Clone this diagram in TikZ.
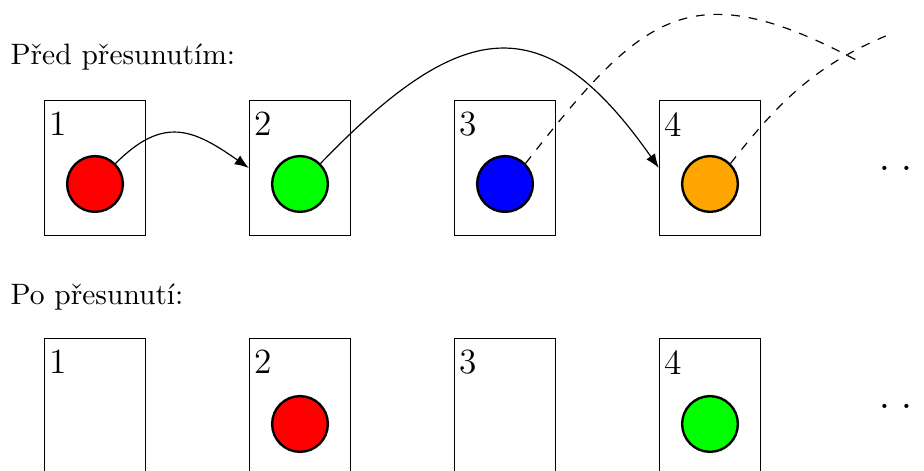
\documentclass[tikz,border=0pt]{standalone}
\usetikzlibrary{arrows.meta}
\definecolor{ballred}{RGB}{255,0,0}
\definecolor{ballgreen}{RGB}{0,255,0}
\definecolor{ballblue}{RGB}{0,0,255}
\definecolor{ballorange}{RGB}{255,165,0}
\begin{document}
\begin{tikzpicture}[x=0.339pt,y=0.339pt,
  slotbox/.style={draw, line width=0.4pt, minimum width=34.3pt, minimum height=45.8pt, inner sep=0pt},
  ball/.style={circle, draw, line width=0.8pt, minimum size=18.9pt, inner sep=0pt},
  numlabel/.style={anchor=north west, font=\large, inner xsep=1.6pt, inner ysep=4pt},
  heading/.style={anchor=base west, inner sep=0pt},
  moreslots/.style={anchor=west, inner sep=0pt, font=\LARGE},
  move/.style={-{Latex}, line width=0.4pt},
  later/.style={dashed, line width=0.4pt}]
\useasboundingbox (0,0) rectangle (924,471);
\clip (0,0) rectangle (924,471);

% headings
\node[heading] (h1) at (10,406) {Před přesunutím:};
\node[heading] (h2) at (10,166) {Po přesunutí:};

% top row
\foreach \i/\x in {1/95,2/300,3/505,4/710}{
  \node[slotbox] (t\i) at (\x,303) {};
  \node[numlabel] (tl\i) at (t\i.north west) {\i};
}
\node[ball, fill=ballred]    (c1) at (95,287)  {};
\node[ball, fill=ballgreen]  (c2) at (300,287) {};
\node[ball, fill=ballblue]   (c3) at (505,287) {};
\node[ball, fill=ballorange] (c4) at (710,287) {};
\node[moreslots] (td) at (878,303) {.\kern3.2pt.\kern3.2pt.};

% bottom row
\foreach \i/\x in {1/95,2/300,3/505,4/710}{
  \node[slotbox] (b\i) at (\x,65) {};
  \node[numlabel] (bl\i) at (b\i.north west) {\i};
}
\node[ball, fill=ballred]   (d2) at (300,47) {};
\node[ball, fill=ballgreen] (d4) at (710,47) {};
\node[moreslots] (bd) at (878,65) {.\kern3.2pt.\kern3.2pt.};

% moves
\draw[move] (c1.45) to[out=45, in=145, looseness=1.3] (t2.west);
\draw[move] (c2.45) to[out=46, in=125, looseness=1.52] (t4.west);

\coordinate (e3) at (858,410);
\coordinate (e4) at (893,438);
\draw[later] (c3.45) to[out=52, in=152, looseness=1.4] (e3);
\draw[later] (c4.45) to[out=52, in=202, looseness=1] (e4);
\end{tikzpicture}
\end{document}
